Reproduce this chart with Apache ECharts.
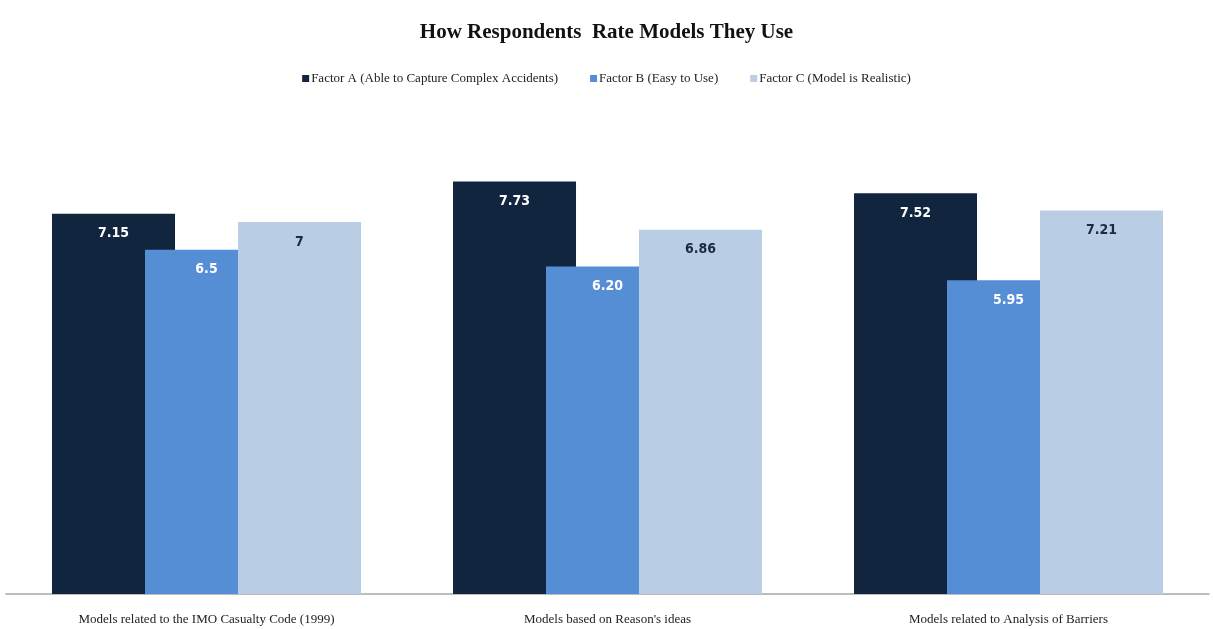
<!DOCTYPE html>
<html>
<head>
<meta charset="utf-8">
<script src="https://cdn.jsdelivr.net/npm/echarts@6/dist/echarts.min.js"></script>
<style>
html, body { margin: 0; padding: 0; background: #fff; }
#chart { width: 1213px; height: 629px; }
</style>
</head>
<body>
<div id="chart"></div>
<script>
// 数据
var categories = [
  'Models related to the IMO Casualty Code (1999)',
  "Models based on Reason's ideas",
  'Models related to Analysis of Barriers'
];
var seriesNames = [
  'Factor A (Able to Capture Complex Accidents)',
  'Factor B (Easy to Use)',
  'Factor C (Model is Realistic)'
];
var factorA = [7.15, 7.73, 7.52];
var factorB = [6.5, 6.20, 5.95];
var factorC = [7, 6.86, 7.21];
// 标签按原图显示
var labelA = ['7.15', '7.73', '7.52'];
var labelB = ['6.5', '6.20', '5.95'];
var labelC = ['7', '6.86', '7.21'];

var serifFont = '"Liberation Serif", serif';
var colors = ['#11253f', '#558ed5', '#b9cde5'];

function makeSeries (name, values, labels, color, labelColor) {
  return {
    name: name,
    type: 'bar',
    data: values,
    barWidth: 123,
    barGap: '-24.4%',
    itemStyle: { color: color },
    label: {
      show: true,
      position: 'insideTop',
      distance: 13,
      color: labelColor,
      fontFamily: '"Liberation Sans Narrow", "DejaVu Sans Condensed", sans-serif',
      fontWeight: 'bold',
      fontSize: 14,
      formatter: function (p) { return labels[p.dataIndex]; }
    }
  };
}

var chart = echarts.init(document.getElementById('chart'));
var option = {
  animation: false,
  color: colors,
  title: {
    text: 'How Respondents  Rate Models They Use',
    left: 'center',
    top: 17,
    textStyle: {
      fontFamily: serifFont,
      fontWeight: 'bold',
      fontSize: 21,
      color: '#111'
    }
  },
  legend: {
    top: 67,
    left: 'center',
    itemWidth: 7,
    itemHeight: 7,
    itemGap: 32,
    icon: 'rect',
    textStyle: {
      fontFamily: serifFont,
      fontSize: 13,
      color: '#222',
      padding: [0, 0, 0, -3]
    },
    data: seriesNames
  },
  grid: {
    left: 6,
    right: 4,
    top: 111,
    bottom: 35,
    containLabel: false
  },
  xAxis: {
    type: 'category',
    data: categories,
    axisTick: { show: false },
    axisLine: { lineStyle: { color: '#a6a6a6', width: 1.5 } },
    axisLabel: {
      margin: 19,
      fontFamily: serifFont,
      fontSize: 13,
      color: '#222'
    }
  },
  yAxis: {
    type: 'value',
    min: 0.3,
    max: 9,
    show: false,
    splitLine: { show: false }
  },
  series: [
    makeSeries(seriesNames[0], factorA, labelA, colors[0], '#ffffff'),
    makeSeries(seriesNames[1], factorB, labelB, colors[1], '#ffffff'),
    makeSeries(seriesNames[2], factorC, labelC, colors[2], '#1a2a40')
  ]
};
chart.setOption(option);
</script>
</body>
</html>
